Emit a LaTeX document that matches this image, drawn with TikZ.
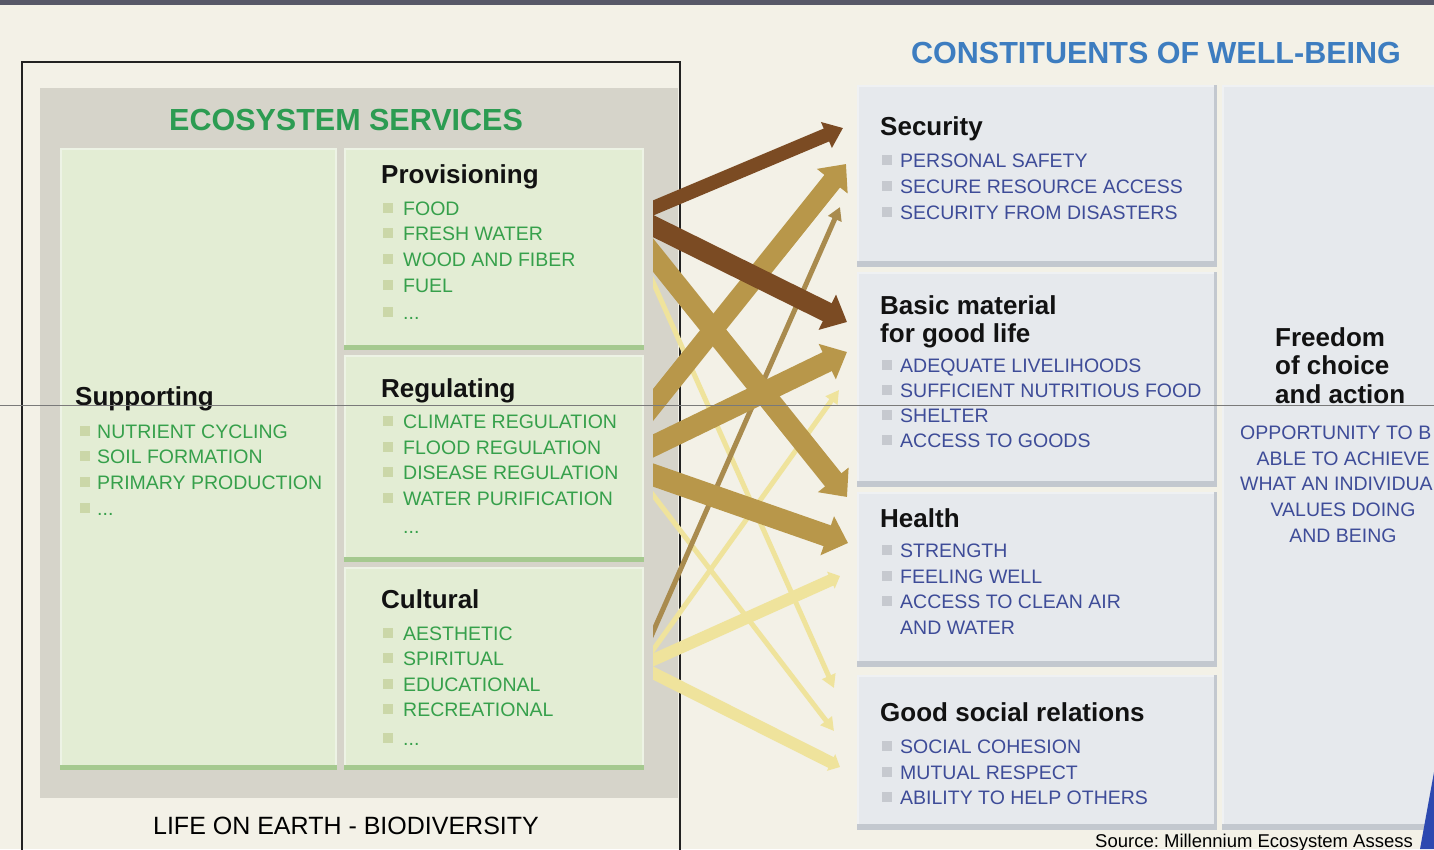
\documentclass[tikz,border=0pt]{standalone}
\usepackage{fontspec}
\setmainfont{Liberation Sans}
\usetikzlibrary{arrows.meta}
\frenchspacing
\definecolor{bgc}{HTML}{F3F1E7}
\definecolor{topband}{HTML}{575868}
\definecolor{framec}{HTML}{222222}
\definecolor{grayboxc}{HTML}{D6D4CA}
\definecolor{gfill}{HTML}{E3EDD4}
\definecolor{gedge}{HTML}{EDF3E5}
\definecolor{gbar}{HTML}{A5C98F}
\definecolor{gbulc}{HTML}{CBD7A8}
\definecolor{gtxtc}{HTML}{36A04B}
\definecolor{gtitlec}{HTML}{2C9C52}
\definecolor{bfill}{HTML}{E6E9ED}
\definecolor{bedge}{HTML}{EFF1F3}
\definecolor{bshade}{HTML}{C3C8CF}
\definecolor{bbulc}{HTML}{C6C9CF}
\definecolor{btxtc}{HTML}{3E4C98}
\definecolor{ctitlec}{HTML}{3D7DC0}
\definecolor{dbrown}{HTML}{7B4B23}
\definecolor{tan}{HTML}{B8974A}
\definecolor{tandark}{HTML}{A98B4E}
\definecolor{lighty}{HTML}{EFE39C}
\definecolor{wedgec}{HTML}{2D49B0}
\definecolor{artline}{HTML}{7A7A7A}

\newcommand{\itm}[6]{%
  \fill[#2bulc] ({#3-5},{#5-5}) rectangle ({#3+5},{#5+5});
  \node[#2txt, anchor=base west] (#1) at (#4,{#5+7}) {#6};}

\tikzset{
  gbox/.style={fill=gfill, draw=gedge, line width=2pt, inner sep=0pt, anchor=north west},
  bbox/.style={fill=bfill, draw=bedge, line width=2pt, inner sep=0pt, anchor=north west},
  gtxt/.style={inner sep=0pt, text=gtxtc, font=\fontsize{19.5}{22}\selectfont},
  btxt/.style={inner sep=0pt, text=btxtc, font=\fontsize{19.5}{22}\selectfont},
  ttl/.style={inner sep=0pt, anchor=base west, text=black!93, font=\fontsize{26}{30}\selectfont\bfseries},
  bigttl/.style={inner sep=0pt, anchor=base, font=\fontsize{30.5}{34}\selectfont\bfseries},
  fat/.style={shorten <=-30pt},
}

\begin{document}
\begin{tikzpicture}[x=1pt,y=-1pt]
\useasboundingbox (0,0) rectangle (1434,849);
\clip (0,0) rectangle (1434,849);
\fill[bgc] (0,0) rectangle (1434,849);
\fill[topband] (0,0) rectangle (1434,5);

% ---------- left: ecosystem services ----------
\draw[framec, line width=2pt] (22,870) -- (22,62) -- (680,62) -- (680,870);
\node[fill=grayboxc, inner sep=0pt, anchor=north west, minimum width=638pt, minimum height=710pt] (eco) at (40,88) {};
\node[bigttl, text=gtitlec] (ecot) at (346,130) {ECOSYSTEM SERVICES};

\node[gbox, minimum width=275pt, minimum height=620pt] (sup) at (60,148) {};
\node[gbox, minimum width=298pt, minimum height=200pt] (prov) at (344,148) {};
\node[gbox, minimum width=298pt, minimum height=205pt] (reg) at (344,355) {};
\node[gbox, minimum width=298pt, minimum height=201pt] (cult) at (344,567) {};
\foreach \b in {sup,prov,reg,cult}{
  \fill[gbar] (\b.south west) rectangle ([yshift=5pt]\b.south east);
}

\node[ttl] (tsup) at (75,405) {Supporting};
\itm{s1}{g}{85}{97}{431}{NUTRIENT CYCLING}
\itm{s2}{g}{85}{97}{456}{SOIL FORMATION}
\itm{s3}{g}{85}{97}{482}{PRIMARY PRODUCTION}
\itm{s4}{g}{85}{97}{508}{...}

\node[ttl] (tprov) at (381,183) {Provisioning};
\itm{p1}{g}{388}{403}{208}{FOOD}
\itm{p2}{g}{388}{403}{233}{FRESH WATER}
\itm{p3}{g}{388}{403}{259}{WOOD AND FIBER}
\itm{p4}{g}{388}{403}{285}{FUEL}
\itm{p5}{g}{388}{403}{312}{...}

\node[ttl] (treg) at (381,397) {Regulating};
\itm{r1}{g}{388}{403}{421}{CLIMATE REGULATION}
\itm{r2}{g}{388}{403}{447}{FLOOD REGULATION}
\itm{r3}{g}{388}{403}{472}{DISEASE REGULATION}
\itm{r4}{g}{388}{403}{498}{WATER PURIFICATION}
\node[gtxt, anchor=base west] (r5) at (403,533) {...};

\node[ttl] (tcult) at (381,608) {Cultural};
\itm{c1}{g}{388}{403}{633}{AESTHETIC}
\itm{c2}{g}{388}{403}{658}{SPIRITUAL}
\itm{c3}{g}{388}{403}{684}{EDUCATIONAL}
\itm{c4}{g}{388}{403}{709}{RECREATIONAL}
\itm{c5}{g}{388}{403}{738}{...}

\node[inner sep=0pt, anchor=base, font=\fontsize{25}{28}\selectfont] (life) at (346,834) {LIFE ON EARTH - BIODIVERSITY};

% ---------- right: constituents of well-being ----------
\node[bigttl, text=ctitlec] (cwb) at (1156,63) {CONSTITUENTS OF WELL-BEING};

\node[bbox, minimum width=358pt, minimum height=180pt] (sec) at (857,85) {};
\node[bbox, minimum width=358pt, minimum height=213pt] (bas) at (857,272) {};
\node[bbox, minimum width=358pt, minimum height=173pt] (hea) at (857,492) {};
\node[bbox, minimum width=358pt, minimum height=153pt] (soc) at (857,675) {};
\node[bbox, minimum width=240pt, minimum height=743pt] (fre) at (1222,85) {};
\foreach \b in {sec,bas,hea,soc,fre}{
  \fill[bshade] ([xshift=-3pt]\b.north east) rectangle (\b.south east);
  \fill[bshade] (\b.south west) rectangle ([yshift=6pt]\b.south east);
}

\node[ttl] (tsec) at (880,135) {Security};
\itm{e1}{b}{887}{900}{160}{PERSONAL SAFETY}
\itm{e2}{b}{887}{900}{186}{SECURE RESOURCE ACCESS}
\itm{e3}{b}{887}{900}{212}{SECURITY FROM DISASTERS}

\node[ttl] (tbas) at (880,314) {Basic material};
\node[ttl] (tbas2) at (880,342) {for good life};
\itm{m1}{b}{887}{900}{365}{ADEQUATE LIVELIHOODS}
\itm{m2}{b}{887}{900}{390}{SUFFICIENT NUTRITIOUS FOOD}
\itm{m3}{b}{887}{900}{415}{SHELTER}
\itm{m4}{b}{887}{900}{440}{ACCESS TO GOODS}

\node[ttl] (thea) at (880,527) {Health};
\itm{h1}{b}{887}{900}{550}{STRENGTH}
\itm{h2}{b}{887}{900}{576}{FEELING WELL}
\itm{h3}{b}{887}{900}{601}{ACCESS TO CLEAN AIR}
\node[btxt, anchor=base west] (h4) at (900,634) {AND WATER};

\node[ttl] (tsoc) at (880,721) {Good social relations};
\itm{g1}{b}{887}{900}{746}{SOCIAL COHESION}
\itm{g2}{b}{887}{900}{772}{MUTUAL RESPECT}
\itm{g3}{b}{887}{900}{797}{ABILITY TO HELP OTHERS}

\node[ttl] (tfre) at (1275,346) {Freedom};
\node[ttl] (tfre2) at (1275,374) {of choice};
\node[ttl] (tfre3) at (1275,403) {and action};
\node[btxt, anchor=base west] (f1) at (1240,439) {OPPORTUNITY TO B};
\node[btxt, anchor=base] (f2) at (1343,465) {ABLE TO ACHIEVE};
\node[btxt, anchor=base west] (f3) at (1240,490) {WHAT AN INDIVIDUA};
\node[btxt, anchor=base] (f4) at (1343,516) {VALUES DOING};
\node[btxt, anchor=base] (f5) at (1343,542) {AND BEING};

% ---------- arrows ----------
\coordinate (pS) at (653,208);
\coordinate (pB) at (653,226);
\coordinate (pH) at (653,255);
\coordinate (pG) at (653,282);
\coordinate (rS) at (653,405);
\coordinate (rB) at (653,446);
\coordinate (rH) at (653,475);
\coordinate (rG) at (653,495);
\coordinate (cS) at (653,632);
\coordinate (cB) at (653,650);
\coordinate (cH) at (653,660);
\coordinate (cG) at (653,673);

\coordinate (toS1) at (843,128);
\coordinate (toS2) at (846,164);
\coordinate (toS3) at (840,207);
\coordinate (toB1) at (847,322);
\coordinate (toB2) at (847,352);
\coordinate (toB3) at (839,390);
\coordinate (toH1) at (847,497);
\coordinate (toH2) at (848,543);
\coordinate (toH3) at (840,576);
\coordinate (toG1) at (834,688);
\coordinate (toG2) at (834,731);
\coordinate (toG3) at (840,767);

\begin{scope}
\clip (653,0) rectangle (900,849);
% weak links
\draw[fat, lighty, line width=5pt, -{Triangle[length=13pt,width=14pt]}] (pG) -- (toG1);
\draw[fat, lighty, line width=5pt, -{Triangle[length=13pt,width=14pt]}] (rG) -- (toG2);
\draw[fat, lighty, line width=5pt, -{Triangle[length=13pt,width=14pt]}] (cB) -- (toB3);
\draw[fat, lighty, line width=12pt, -{Triangle[length=10pt,width=18pt]}] (cH) -- (toH3);
\draw[fat, lighty, line width=12pt, -{Triangle[length=10pt,width=18pt]}] (cG) -- (toG3);
\draw[fat, tandark, line width=5pt, -{Triangle[length=13pt,width=14pt]}] (cS) -- (toS3);
% medium links
\draw[fat, tan, line width=20pt, -{Triangle[length=22pt,width=38pt]}] (rS) -- (toS2);
\draw[fat, tan, line width=21pt, -{Triangle[length=22pt,width=38pt]}] (pH) -- (toH1);
\draw[fat, tan, line width=21pt, -{Triangle[length=22pt,width=38pt]}] (rB) -- (toB2);
\draw[fat, tan, line width=22pt, -{Triangle[length=22pt,width=40pt]}] (rH) -- (toH2);
% strong links
\draw[fat, dbrown, line width=14pt, -{Triangle[length=18pt,width=27pt]}] (pS) -- (toS1);
\draw[fat, dbrown, line width=20pt, -{Triangle[length=22pt,width=38pt]}] (pB) -- (toB1);
\end{scope}

% ---------- source, wedge, artefact line ----------
\node[inner sep=0pt, anchor=base west, font=\fontsize{18.5}{21}\selectfont] (src) at (1095,847) {Source: Millennium Ecosystem Assess};
\fill[wedgec] (1434,772) -- (1420,849) -- (1434,849) -- cycle;
\draw[artline, line width=1pt] (0,405) -- (1434,405);
\end{tikzpicture}
\end{document}
